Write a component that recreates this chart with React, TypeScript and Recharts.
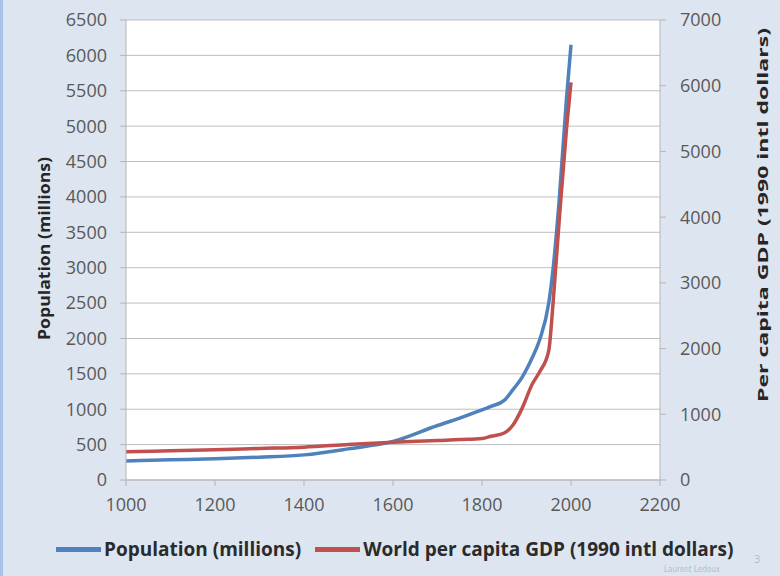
import { LineChart, Line, XAxis, YAxis, CartesianGrid, Legend } from 'recharts';

const years = [1000, 1100, 1200, 1300, 1400, 1500, 1600, 1700, 1750, 1800, 1820, 1850, 1870, 1890, 1913, 1930, 1950, 1960, 1973, 1990, 2000];
// Population (millions), left axis
const population = [268, 285, 300, 322, 355, 440, 545, 770, 875, 990, 1040, 1125, 1280, 1450, 1730, 1990, 2500, 3000, 3920, 5400, 6150];
// World per capita GDP (1990 intl dollars), right axis
const gdpPerCapita = [431, 445, 460, 480, 500, 540, 575, 600, 615, 632, 665, 715, 840, 1090, 1460, 1650, 1970, 2720, 3900, 5350, 6050];

const xTicks = [1000, 1200, 1400, 1600, 1800, 2000, 2200];
const popTicks = [0, 500, 1000, 1500, 2000, 2500, 3000, 3500, 4000, 4500, 5000, 5500, 6000, 6500];
const gdpTicks = [0, 1000, 2000, 3000, 4000, 5000, 6000, 7000];

const data = years.map((year, i) => ({ year, population: population[i], gdp: gdpPerCapita[i] }));

const FONT = '"Open Sans", sans-serif';
const tickStyle = { fill: '#595959', fontSize: 18, fontFamily: FONT };
const axisColor = '#b5b5b5';

// rotated, stretched axis title placed relative to the axis box
function axisTitle(text: string, dx: number, dy: number, fontSize: number, length: number) {
  return (props: any) => {
    const vb = props.viewBox;
    const cx = vb.x + dx;
    const cy = vb.y + vb.height / 2 + dy;
    return (
      <text
        x={cx}
        y={cy}
        transform={`rotate(-90 ${cx} ${cy})`}
        textAnchor="middle"
        dominantBaseline="central"
        fontFamily={FONT}
        fontWeight={700}
        fontSize={fontSize}
        fill="#262626"
        textLength={length}
        lengthAdjust="spacingAndGlyphs"
      >
        {text}
      </text>
    );
  };
}

const LegendContent = (props: any) => (
  <div style={{ display: 'flex', alignItems: 'center', fontFamily: FONT, fontWeight: 700, fontSize: 19, lineHeight: '20px', color: '#2b2b2b', whiteSpace: 'nowrap' }}>
    {(props.payload || []).map((p: any) => (
      <div key={p.value} style={{ display: 'flex', alignItems: 'center', marginRight: 14 }}>
        <span style={{ display: 'inline-block', width: 45, height: 5, background: p.color, marginRight: 3 }} />
        <span>{p.value}</span>
      </div>
    ))}
  </div>
);

export default function App() {
  return (
    <div style={{ position: 'absolute', left: 0, top: 0, width: 780, height: 576, background: '#dde5f0', overflow: 'hidden' }}>
      <div style={{ position: 'absolute', left: 0, top: 0, width: 3, height: 576, background: '#a9c3e6' }} />
      <LineChart width={780} height={576} data={data} margin={{ top: 20, right: 0, left: 0, bottom: 56 }}>
        <CartesianGrid yAxisId="left" vertical={false} stroke="#bfbfbf" fill="#ffffff" />
        <XAxis
          dataKey="year"
          type="number"
          domain={[1000, 2200]}
          ticks={xTicks}
          height={40}
          tick={tickStyle}
          tickSize={6}
          tickMargin={12}
          stroke={axisColor}
        />
        <YAxis
          yAxisId="left"
          domain={[0, 6500]}
          ticks={popTicks}
          width={126}
          tick={tickStyle}
          tickSize={6}
          tickMargin={13}
          stroke={axisColor}
          interval={0}
          label={axisTitle('Population (millions)', 44, -1.5, 16, 183)}
        />
        <YAxis
          yAxisId="right"
          orientation="right"
          domain={[0, 7000]}
          ticks={gdpTicks}
          width={120}
          tick={{ ...tickStyle, textAnchor: 'start' }}
          tickSize={6}
          tickMargin={14}
          stroke={axisColor}
          interval={0}
          label={axisTitle('Per capita GDP (1990 intl dollars)', 103, -35, 13.5, 374)}
        />
        <Line
          yAxisId="left"
          type="monotone"
          dataKey="population"
          name="Population (millions)"
          stroke="#4f81bd"
          strokeWidth={3.5}
          dot={false}
          isAnimationActive={false}
        />
        <Line
          yAxisId="right"
          type="monotone"
          dataKey="gdp"
          name="World per capita GDP (1990 intl dollars)"
          stroke="#c0504d"
          strokeWidth={3.5}
          dot={false}
          isAnimationActive={false}
        />
        <Legend
          layout="horizontal"
          verticalAlign="middle"
          align="center"
          content={LegendContent}
          wrapperStyle={{ left: 56, top: 539, width: 'auto' }}
        />
      </LineChart>
      <div style={{ position: 'absolute', left: 664, top: 565, lineHeight: '9px', fontFamily: '"Liberation Sans Narrow", "DejaVu Sans Condensed", sans-serif', fontSize: 8, color: '#b4bccb' }}>
        Laurent Ledoux
      </div>
      <div style={{ position: 'absolute', left: 754, top: 553, lineHeight: '12px', fontFamily: FONT, fontSize: 11, color: '#b4bccb' }}>3</div>
    </div>
  );
}
